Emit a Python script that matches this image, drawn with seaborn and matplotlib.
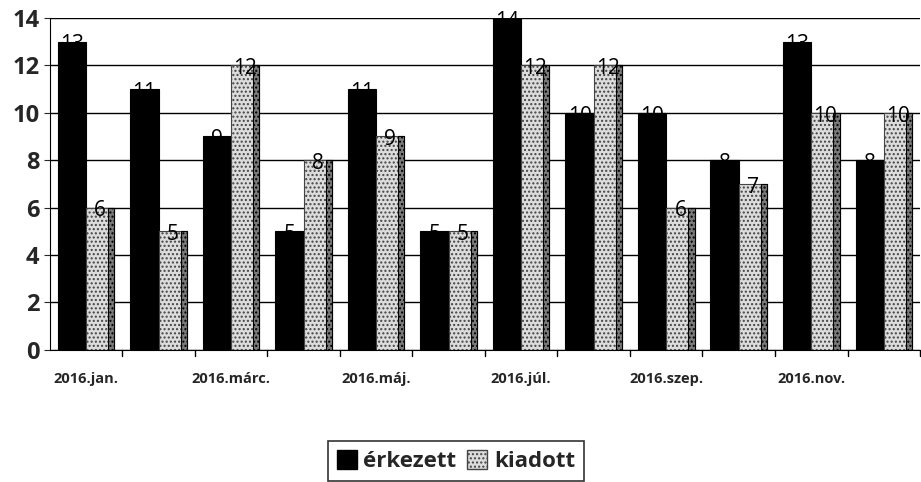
import matplotlib
matplotlib.use("Agg")
import matplotlib.pyplot as plt
import seaborn as sns
import pandas as pd
import numpy as np

months = ["2016.jan.", "2016.febr.", "2016.márc.", "2016.ápr.", "2016.máj.", "2016.jún.",
          "2016.júl.", "2016.aug.", "2016.szep.", "2016.okt.", "2016.nov.", "2016.dec."]
erkezett = [13, 11, 9, 5, 11, 5, 14, 10, 10, 8, 13, 8]
kiadott = [6, 5, 12, 8, 9, 5, 12, 12, 6, 7, 10, 10]
series = ["érkezett", "kiadott"]

df = pd.DataFrame({
    "hónap": months * 2,
    "érték": erkezett + kiadott,
    "sorozat": [series[0]] * len(months) + [series[1]] * len(months),
})

sns.set_style("white")
plt.rcParams["font.family"] = ["Open Sans", "DejaVu Sans"]

fig = plt.figure(figsize=(9.21, 4.82), dpi=100)
ax = fig.add_axes([0.054, 0.274, 0.945, 0.689])

sns.barplot(data=df, x="hónap", y="érték", hue="sorozat", order=months,
            hue_order=series, palette=["#000000", "#dcdcdc"], width=0.78,
            edgecolor="black", linewidth=0.8, ax=ax, legend=False, errorbar=None)

# stipple texture + dark side for light bars
for cont, lab in zip(ax.containers, series):
    for p in cont.patches:
        if lab == "kiadott":
            p.set_hatch("....")
            p.set_edgecolor("#444444")
            x0 = p.get_x() + p.get_width()
            ax.add_patch(plt.Rectangle((x0 - p.get_width() * 0.22, 0), p.get_width() * 0.22,
                                       p.get_height(), facecolor="#7a7a7a", edgecolor="black",
                                       hatch="....", linewidth=0.8, zorder=p.get_zorder()))
    ax.bar_label(cont, labels=[str(int(v)) for v in cont.datavalues], padding=-10,
                 fontsize=15, color="black")

ax.set_ylim(0, 14)
ax.set_xlim(-0.5, 11.5)
ax.set_yticks(np.arange(0, 15, 2))
ax.tick_params(axis="y", labelsize=17, length=4, left=True, direction="out")
for t in ax.get_yticklabels():
    t.set_fontweight("bold")
ax.yaxis.grid(True, color="black", linewidth=1)
ax.set_axisbelow(True)

ax.set_xticks(range(0, 12, 2))
ax.set_xticklabels([months[i] for i in range(0, 12, 2)], fontsize=10.5, fontweight="bold")
ax.tick_params(axis="x", length=0, pad=16)
for xb in np.arange(0.5, 11.6, 1):
    ax.plot([xb, xb], [0, -0.25], color="black", lw=1, clip_on=False)

ax.set_xlabel("")
ax.set_ylabel("")
for s in ["top", "right"]:
    ax.spines[s].set_visible(False)
ax.spines["left"].set_color("black")
ax.spines["bottom"].set_color("black")

from matplotlib.patches import Patch
handles = [Patch(facecolor="#000000", edgecolor="black"),
           Patch(facecolor="#dcdcdc", edgecolor="#444444", hatch="....")]
leg = fig.legend(handles, series, loc="center", bbox_to_anchor=(0.495, 0.043), ncol=2,
                 frameon=True, fancybox=False, edgecolor="black", handlelength=0.9,
                 handleheight=0.9, handletextpad=0.3, columnspacing=0.5,
                 prop={"weight": "bold", "size": 16}, borderpad=0.4)
leg.get_frame().set_linewidth(1.2)

fig.savefig("out.png", dpi=100)
